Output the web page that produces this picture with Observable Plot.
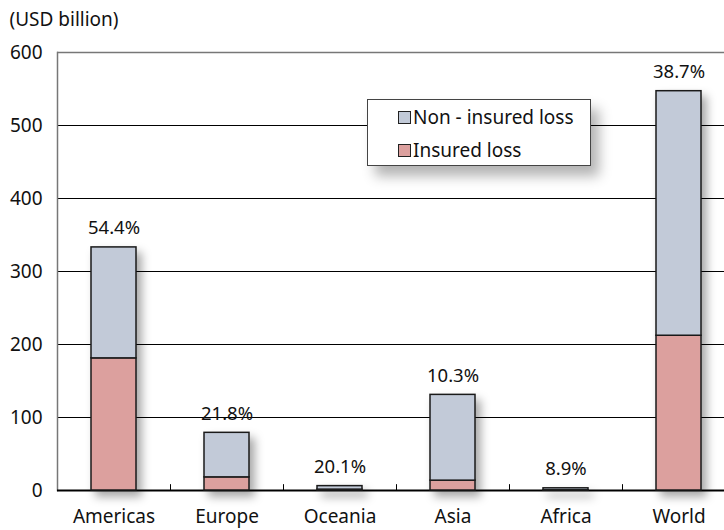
<!DOCTYPE html>
<html>
<head>
<meta charset="utf-8">
<script src="https://cdn.jsdelivr.net/npm/d3@7"></script>
<script src="https://cdn.jsdelivr.net/npm/@observablehq/plot@0.6"></script>
<style>
  body { margin: 0; background: #fff; }
  #wrap { position: relative; width: 724px; height: 530px; overflow: hidden; font-family: "Noto Sans", sans-serif; }
  .bars { filter: drop-shadow(5px 6px 5px rgba(0,0,0,0.35)); }
  #legend {
    position: absolute; left: 367px; top: 99px; width: 224px; height: 67px;
    border: 1px solid #444; background: #fff; box-sizing: border-box;
    box-shadow: 8px 10px 12px rgba(0,0,0,0.3);
    font-size: 19px; color: #111;
  }
  .li { position: absolute; left: 30px; display: flex; align-items: center; line-height: 22px; }
  .sw { width: 11px; height: 11px; border: 1px solid #222; margin-right: 2px; }
</style>
</head>
<body>
<div id="wrap"></div>
<script>
const regions = ["Americas", "Europe", "Oceania", "Asia", "Africa", "World"];
const insured = [181, 18, 1.2, 13.5, 0.3, 212];
const total = [333, 79, 6, 131, 3, 547];
const shareLabels = ["54.4%", "21.8%", "20.1%", "10.3%", "8.9%", "38.7%"];
const seriesNames = ["Insured loss", "Non - insured loss"];
const seriesColors = ["#dca09e", "#c2cad8"];
const yTicks = [0, 100, 200, 300, 400, 500, 600];

const rows = [];
regions.forEach((r, i) => {
  rows.push({region: r, type: seriesNames[0], value: insured[i]});
  rows.push({region: r, type: seriesNames[1], value: total[i] - insured[i]});
});
const totals = regions.map((r, i) => ({region: r, total: total[i], label: shareLabels[i]}));

const chart = Plot.plot({
  width: 724,
  height: 530,
  marginTop: 52,
  marginBottom: 40,
  marginLeft: 57,
  marginRight: 0,
  style: {fontFamily: "'Noto Sans', sans-serif", fontSize: "19px", color: "#111", background: "transparent"},
  x: {domain: regions, range: [57, 735], paddingInner: 0.6, paddingOuter: 0.3, label: null},
  y: {domain: [0, 600], label: null},
  color: {domain: seriesNames, range: seriesColors},
  marks: [
    Plot.ruleY(yTicks.slice(1, 6), {stroke: "#000", strokeWidth: 1.2}),
    Plot.ruleY([600], {stroke: "#777", strokeWidth: 1.5}),
    Plot.frame({anchor: "left", stroke: "#777", strokeWidth: 1.5}),
    Plot.ruleY([0], {stroke: "#000", strokeWidth: 2}),
    Plot.ruleX(regions.slice(0, 5), {x: d => d, dx: 56.5, y1: 0, y2: 8, stroke: "#000", strokeWidth: 1}),
    Plot.barY(rows, {x: "region", y: "value", fill: "type", order: seriesNames, stroke: "#1a1a1a", strokeWidth: 1.5, className: "bars"}),
    Plot.text(totals, {x: "region", y: "total", text: "label", lineAnchor: "bottom", dy: -13, fontSize: 18.5, fill: "#111"}),
    Plot.axisY({ticks: yTicks, tickSize: 0, tickPadding: 15, fontSize: 19}),
    Plot.axisX({tickSize: 0, tickPadding: 19, fontSize: 19}),
    Plot.text(["(USD billion)"], {frameAnchor: "top-left", dx: -48, dy: -40, textAnchor: "start", fontSize: 19, fill: "#111"})
  ]
});

const wrap = document.getElementById("wrap");
wrap.appendChild(chart);
const legend = document.createElement("div");
legend.id = "legend";
legend.innerHTML = `
  <div class="li" style="top:6px"><span class="sw" style="background:${seriesColors[1]}"></span>${seriesNames[1]}</div>
  <div class="li" style="top:39px"><span class="sw" style="background:${seriesColors[0]}"></span>${seriesNames[0]}</div>`;
wrap.appendChild(legend);
</script>
</body>
</html>
